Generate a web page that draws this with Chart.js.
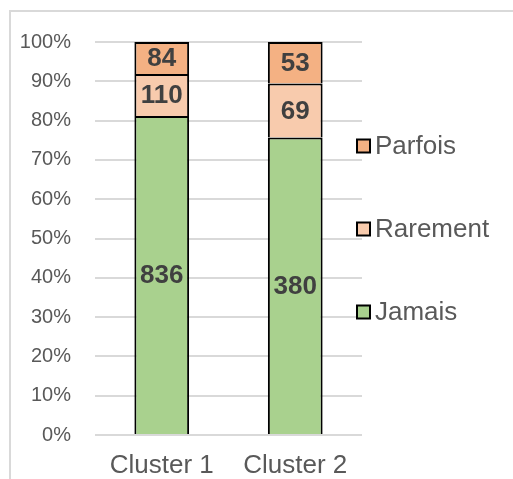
<!DOCTYPE html>
<html>
<head>
<meta charset="utf-8">
<script src="https://cdn.jsdelivr.net/npm/chart.js@4"></script>
<style>
html,body{margin:0;padding:0;background:#fff;}
#wrap{position:relative;width:513px;height:479px;}
</style>
</head>
<body>
<div id="wrap"><canvas id="c" width="513" height="479"></canvas></div>
<script>
const categories = ["Cluster 1", "Cluster 2"];
const seriesNames = ["Jamais", "Rarement", "Parfois"];
const jamais = [836, 380];
const rarement = [110, 69];
const parfois = [84, 53];
const yTicks = [0, 10, 20, 30, 40, 50, 60, 70, 80, 90, 100];
const colors = ["#A9D18E", "#F8CBAD", "#F4B183"];

const counts = [jamais, rarement, parfois];
const totals = categories.map((_, i) => counts.reduce((s, a) => s + a[i], 0));
const pct = counts.map(a => a.map((v, i) => v / totals[i] * 100));

const FONT = "'Liberation Sans', Arial, sans-serif";

const framePlugin = {
  id: 'frame',
  beforeDraw(chart) {
    const ctx = chart.ctx;
    ctx.save();
    ctx.strokeStyle = '#d9d9d9';
    ctx.lineWidth = 2;
    ctx.beginPath();
    ctx.moveTo(10, 479);
    ctx.lineTo(10, 11);
    ctx.lineTo(513, 11);
    ctx.stroke();
    ctx.restore();
  }
};

const labelPlugin = {
  id: 'vals',
  afterDatasetsDraw(chart) {
    const ctx = chart.ctx;
    ctx.save();
    ctx.font = "bold 26px " + FONT;
    ctx.fillStyle = '#404040';
    ctx.textAlign = 'center';
    ctx.textBaseline = 'middle';
    chart.data.datasets.forEach((ds, di) => {
      const meta = chart.getDatasetMeta(di);
      meta.data.forEach((bar, i) => {
        const yc = (bar.y + bar.base) / 2;
        ctx.fillText(String(counts[di][i]), bar.x, yc + 1);
      });
    });
    ctx.restore();
  }
};

const legendPlugin = {
  id: 'legendR',
  afterDraw(chart) {
    const ctx = chart.ctx;
    ctx.save();
    ctx.font = "26px " + FONT;
    ctx.textBaseline = 'middle';
    ctx.textAlign = 'left';
    const n = chart.data.datasets.length;
    const x0 = 357, y0 = 146, step = 83, box = 13;
    for (let k = 0; k < n; k++) {
      const di = n - 1 - k;
      const ds = chart.data.datasets[di];
      const yc = y0 + k * step;
      ctx.fillStyle = ds.backgroundColor;
      ctx.fillRect(x0, yc - box / 2, box, box);
      ctx.strokeStyle = '#000';
      ctx.lineWidth = 2;
      ctx.strokeRect(x0, yc - box / 2, box, box);
      ctx.fillStyle = '#595959';
      ctx.fillText(ds.label, 375, yc + 1);
    }
    ctx.restore();
  }
};

new Chart(document.getElementById('c'), {
  type: 'bar',
  data: {
    labels: categories,
    datasets: seriesNames.map((name, i) => ({
      label: name,
      data: pct[i],
      backgroundColor: colors[i],
      borderColor: '#000',
      borderWidth: 2,
      borderSkipped: 'start',
      barPercentage: 0.41,
      categoryPercentage: 1
    }))
  },
  options: {
    responsive: false,
    animation: false,
    layout: { padding: { left: 0, top: 42, right: 151, bottom: 0 } },
    plugins: { legend: { display: false }, tooltip: { enabled: false } },
    scales: {
      x: {
        stacked: true,
        grid: { display: false, drawTicks: false },
        border: { display: false },
        ticks: { color: '#595959', font: { family: FONT, size: 26 }, padding: 15 },
        afterFit(s) { s.height = 44; }
      },
      y: {
        stacked: true,
        min: 0, max: 100,
        afterBuildTicks(s) { s.ticks = yTicks.map(v => ({ value: v })); },
        grid: { color: '#d9d9d9', lineWidth: 2, drawTicks: false },
        border: { display: false },
        ticks: {
          color: '#595959',
          font: { family: FONT, size: 20 },
          padding: 24,
          callback: v => v + '%'
        },
        afterFit(s) { s.width = 95; }
      }
    }
  },
  plugins: [framePlugin, labelPlugin, legendPlugin]
});
</script>
</body>
</html>
